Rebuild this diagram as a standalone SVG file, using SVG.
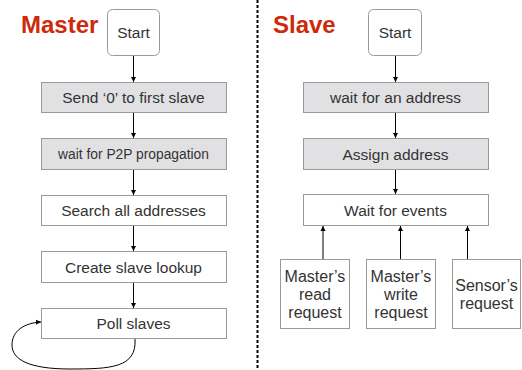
<svg xmlns="http://www.w3.org/2000/svg" width="522" height="370" viewBox="0 0 522 370">
<defs>
<marker id="ah" markerWidth="6" markerHeight="6" refX="5" refY="3" orient="auto" markerUnits="userSpaceOnUse">
<path d="M0,0.5 L5,3 L0,5.5 Z" fill="#000"/>
</marker>
<style>
.t{font-family:"Liberation Sans",Arial,sans-serif;font-size:15.5px;fill:#333;text-anchor:middle}
.s{font-size:13.8px}
.b{font-size:16px}
.h{font-family:"Liberation Sans",Arial,sans-serif;font-size:24px;font-weight:bold;fill:#cc2a0a}
.g{fill:#e1e1e3;stroke:#9a9a9a;stroke-width:1}
.w{fill:#fff;stroke:#9a9a9a;stroke-width:1}
.c{fill:none;stroke:#000;stroke-width:1;marker-end:url(#ah)}
</style>
</defs>
<rect width="522" height="370" fill="#fff"/>
<line x1="257.5" y1="0" x2="257.5" y2="370" stroke="#000" stroke-width="2" stroke-dasharray="3,2"/>
<text class="h" x="21" y="33">Master</text>
<text class="h" x="273" y="33">Slave</text>
<g id="m_start"><rect class="w" x="107.5" y="9.5" width="52" height="46" rx="5"/><text class="t" x="133.5" y="38">Start</text></g>
<g id="m_send"><rect class="g" x="41.5" y="82.5" width="185" height="30"/><text class="t" x="133.5" y="103">Send ‘0’ to first slave</text></g>
<g id="m_wait"><rect class="g" x="41.5" y="138.5" width="185" height="31"/><text class="t s" x="133.5" y="159">wait for P2P propagation</text></g>
<g id="m_search"><rect class="w" x="41.5" y="195.5" width="185" height="30"/><text class="t" x="133.5" y="216">Search all addresses</text></g>
<g id="m_create"><rect class="w" x="41.5" y="251.5" width="185" height="31"/><text class="t" x="133.5" y="272.5">Create slave lookup</text></g>
<g id="m_poll"><rect class="w" x="41.5" y="308.5" width="185" height="30"/><text class="t" x="133.5" y="329">Poll slaves</text></g>
<g id="s_start"><rect class="w" x="368.5" y="9.5" width="53" height="46" rx="5"/><text class="t" x="395" y="38">Start</text></g>
<g id="s_wait"><rect class="g" x="303.5" y="82.5" width="185" height="30"/><text class="t" x="395.5" y="103">wait for an address</text></g>
<g id="s_assign"><rect class="g" x="303.5" y="138.5" width="185" height="31"/><text class="t" x="395.5" y="159.5">Assign address</text></g>
<g id="s_events"><rect class="w" x="303.5" y="194.5" width="185" height="31"/><text class="t" x="395.5" y="215.5">Wait for events</text></g>
<g id="s_read"><rect class="w" x="280.5" y="259.5" width="69" height="69"/><text class="t b" x="315" y="282">Master’s<tspan x="315" y="300">read</tspan><tspan x="315" y="318">request</tspan></text></g>
<g id="s_write"><rect class="w" x="366.5" y="259.5" width="69" height="69"/><text class="t b" x="401" y="282">Master’s<tspan x="401" y="300">write</tspan><tspan x="401" y="318">request</tspan></text></g>
<g id="s_sensor"><rect class="w" x="452.5" y="259.5" width="68" height="69"/><text class="t b" x="486.5" y="291">Sensor’s<tspan x="486.5" y="309">request</tspan></text></g>
<g id="connectors">
<line class="c" x1="133.5" y1="56" x2="133.5" y2="82"/>
<line class="c" x1="133.5" y1="113" x2="133.5" y2="138"/>
<line class="c" x1="133.5" y1="170" x2="133.5" y2="195"/>
<line class="c" x1="133.5" y1="226" x2="133.5" y2="251"/>
<line class="c" x1="133.5" y1="283" x2="133.5" y2="308"/>
<path class="c" d="M135,339 C137,368 110,369 70,369 C30,369 12,360 12,345 C12,331 24,323 41,322"/>
<line class="c" x1="395.5" y1="56" x2="395.5" y2="82"/>
<line class="c" x1="395.5" y1="113" x2="395.5" y2="138"/>
<line class="c" x1="395.5" y1="170" x2="395.5" y2="194"/>
<line class="c" x1="323" y1="259" x2="323" y2="226"/>
<line class="c" x1="400.5" y1="259" x2="400.5" y2="226"/>
<line class="c" x1="467.5" y1="259" x2="467.5" y2="226"/>
</g>
</svg>
